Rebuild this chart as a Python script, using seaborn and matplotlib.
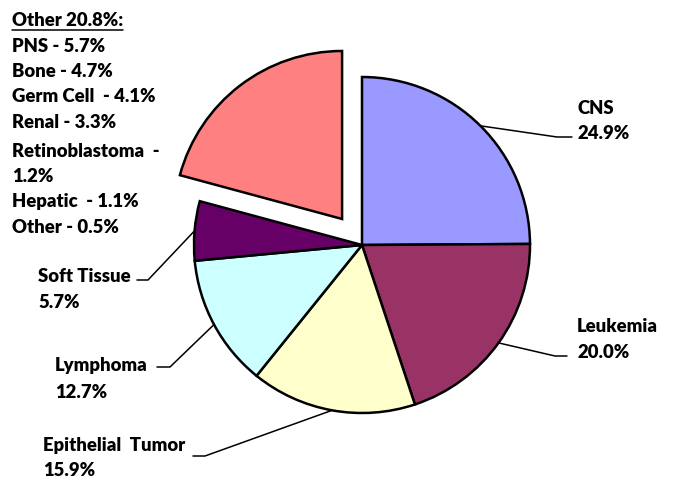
import numpy as np
import matplotlib
matplotlib.use("Agg")
import matplotlib.pyplot as plt
import seaborn as sns

# data
categories = ["CNS", "Leukemia", "Epithelial Tumor", "Lymphoma", "Soft Tissue", "Other"]
shares = [24.9, 20.0, 15.9, 12.7, 5.7, 20.8]
colors = ["#9999FF", "#993366", "#FFFFCC", "#CCFFFF", "#660066", "#FF8080"]
explode = [0, 0, 0, 0, 0, 0.195]

other_title = "Other 20.8%:"
other_parts = ["PNS - 5.7%", "Bone - 4.7%", "Germ Cell  - 4.1%", "Renal - 3.3%",
               "Retinoblastoma  -", "1.2%", "Hepatic  - 1.1%", "Other - 0.5%"]

sns.set_theme(style="white")
plt.rcParams['font.family'] = ['Lato', 'DejaVu Sans']

W, H = 675, 481
CX, CY, R = 362, 246, 168

fig = plt.figure(figsize=(W / 100, H / 100), dpi=100)
ax = fig.add_axes([0, 0, 1, 1])


def px(x, y):
    # image pixel -> data coords
    return (x - CX) / R, (CY - y) / R


wedges, _ = ax.pie(shares, colors=colors, explode=explode, startangle=90,
                   counterclock=False, radius=1,
                   wedgeprops=dict(edgecolor="black", linewidth=1.8))
ax.set_xlim(-CX / R, (W - CX) / R)
ax.set_ylim(-(H - CY) / R, CY / R)
ax.set_aspect("auto")
ax.axis("off")

font = dict(fontsize=13.3, fontweight="heavy", color="black")

# label layout: (first line, second line, ha, elbow, end) in image pixels
layout = {
    "CNS": ((577, 109), (577, 134), "left", (557, 138), (572, 138)),
    "Leukemia": ((577, 327), (577, 353), "left", (555, 357), (567, 357)),
    "Epithelial Tumor": ((43, 446), (43, 471), "left", (205, 457), (193, 457)),
    "Lymphoma": ((55, 365), (55, 392), "left", (170, 368), (157, 368)),
    "Soft Tissue": ((38, 277), (38, 303), "left", (148, 281), (137, 281)),
}

for w, cat, val in zip(wedges, categories, shares):
    if cat not in layout:
        continue
    t1, t2, ha, elbow, end = layout[cat]
    ang = np.deg2rad((w.theta1 + w.theta2) / 2)
    ex = w.center[0] + w.r * np.cos(ang)
    ey = w.center[1] + w.r * np.sin(ang)
    bx, by = px(*elbow)
    dx, dy = px(*end)
    ax.plot([ex, bx, dx], [ey, by, dy], color="black", lw=1.1)
    name = "Epithelial  Tumor" if cat == "Epithelial Tumor" else cat
    ax.text(*px(*t1), name, ha=ha, va="center", **font)
    ax.text(*px(*t2), f"{val:.1f}%", ha=ha, va="center", **font)

# breakdown of "Other"
t = ax.text(*px(12, 21), other_title, ha="left", va="center", **font)
ys = [47, 72, 97, 123, 152, 177, 202, 228]
for s, y in zip(other_parts, ys):
    ax.text(*px(12, y), s, ha="left", va="center", **font)

fig.canvas.draw()
bb = t.get_window_extent()
inv = ax.transData.inverted()
(x0, y0), (x1, _) = inv.transform([[bb.x0, bb.y0 - 1], [bb.x1, bb.y0]])
ax.plot([x0, x1], [y0, y0], color="black", lw=1.1)

fig.savefig("out.png", dpi=100, facecolor="white")
